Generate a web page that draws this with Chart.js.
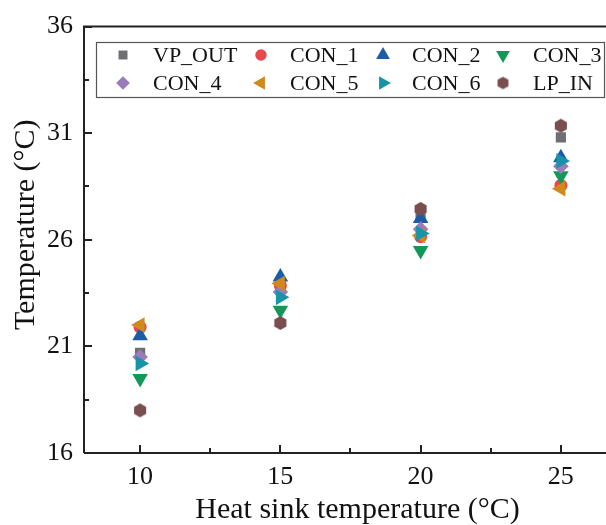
<!DOCTYPE html>
<html>
<head>
<meta charset="utf-8">
<script src="https://cdn.jsdelivr.net/npm/chart.js@4/dist/chart.umd.min.js"></script>
<style>
body { margin: 0; background: #fff; }
#wrap { width: 606px; height: 525px; overflow: hidden; }
</style>
</head>
<body>
<div id="wrap"><canvas id="myChart" width="640" height="525"></canvas></div>
<script>
// data
var xValues = [10, 15, 20, 25];
var xTicks = [10, 15, 20, 25];
var yTicks = [16, 21, 26, 31, 36];
var seriesNames = ["VP_OUT", "CON_1", "CON_2", "CON_3", "CON_4", "CON_5", "CON_6", "LP_IN"];
var vpOut = [20.7, 23.8, 27.2, 30.8];
var con1 = [21.9, 23.85, 26.15, 28.55];
var con2 = [21.5, 24.25, 27.0, 29.85];
var con3 = [19.5, 22.7, 25.5, 29.0];
var con4 = [20.5, 23.55, 26.5, 29.45];
var con5 = [22.0, 23.95, 26.2, 28.4];
var con6 = [20.2, 23.3, 26.3, 29.7];
var lpIn = [18.0, 22.1, 27.45, 31.35];

var allValues = [vpOut, con1, con2, con3, con4, con5, con6, lpIn];
var colors = ["#6e6f73", "#e8474c", "#1b5ca8", "#12995a", "#9b7bb8", "#cf8a1d", "#1794a8", "#7a4e4e"];

// hexagon marker
function hexagon(color, rad) {
  var n = Math.ceil(rad * 2) + 2;
  var c = document.createElement("canvas");
  c.width = n; c.height = n;
  var g = c.getContext("2d");
  g.fillStyle = color;
  g.beginPath();
  for (var i = 0; i < 6; i++) {
    var a = Math.PI / 3 * i - Math.PI / 2;
    var px = n / 2 + rad * Math.cos(a), py = n / 2 + rad * Math.sin(a);
    if (i == 0) g.moveTo(px, py); else g.lineTo(px, py);
  }
  g.closePath();
  g.fill();
  return c;
}

var styles = [
  {s: "rect", rot: 0, r: 7.2},
  {s: "circle", rot: 0, r: 6.5},
  {s: "triangle", rot: 0, r: 9},
  {s: "triangle", rot: 180, r: 9},
  {s: "rectRot", rot: 0, r: 7.8},
  {s: "triangle", rot: -90, r: 9},
  {s: "triangle", rot: 90, r: 9},
  {s: hexagon(colors[7], 7), rot: 0, r: 7}
];
var legendHex = hexagon(colors[7], 6.3);

var datasets = seriesNames.map(function(name, i) {
  return {
    label: name,
    data: xValues.map(function(x, j) { return {x: x, y: allValues[i][j]}; }),
    backgroundColor: colors[i],
    borderColor: colors[i],
    borderWidth: 0,
    pointStyle: styles[i].s,
    rotation: styles[i].rot,
    pointRadius: styles[i].r,
    pointHoverRadius: styles[i].r,
    order: 7 - i
  };
});

var serif = "'Liberation Serif', 'Times New Roman', serif";
var axisColor = "#222";

// axes frame + inward ticks + y title
var framePlugin = {
  id: "frame",
  afterDraw: function(chart) {
    var ctx = chart.ctx, a = chart.chartArea;
    var xs = chart.scales.x, ys = chart.scales.y;
    ctx.save();
    ctx.strokeStyle = axisColor;
    ctx.lineWidth = 2;
    ctx.beginPath();
    ctx.moveTo(a.left, a.bottom); ctx.lineTo(a.left, a.top); ctx.lineTo(a.right, a.top);
    ctx.moveTo(a.left, a.bottom); ctx.lineTo(a.right, a.bottom);
    xTicks.forEach(function(v) {
      var p = Math.round(xs.getPixelForValue(v));
      ctx.moveTo(p, a.bottom); ctx.lineTo(p, a.bottom - 8);
    });
    for (var i = 0; i < xTicks.length; i++) {
      var m = Math.round(xs.getPixelForValue(xTicks[i] + 2.5));
      ctx.moveTo(m, a.bottom); ctx.lineTo(m, a.bottom - 5);
    }
    yTicks.forEach(function(v, i) {
      var p = Math.round(ys.getPixelForValue(v));
      ctx.moveTo(a.left, p); ctx.lineTo(a.left + 8, p);
      if (i < yTicks.length - 1) {
        var m = Math.round(ys.getPixelForValue(v + 2.5));
        ctx.moveTo(a.left, m); ctx.lineTo(a.left + 5, m);
      }
    });
    ctx.stroke();

    // y axis title
    ctx.translate(26, (a.top + a.bottom) / 2 - 15);
    ctx.rotate(-Math.PI / 2);
    ctx.font = "30px " + serif;
    ctx.fillStyle = "#111";
    ctx.textAlign = "center";
    ctx.textBaseline = "middle";
    ctx.fillText("Temperature (°C)", 0, 0);
    ctx.restore();
  }
};

// legend box inside the plot
var legendPlugin = {
  id: "boxLegend",
  afterDatasetsDraw: function(chart) {
    var ctx = chart.ctx;
    var box = {l: 96, t: 42, r: 604, b: 97};
    var markX = [123, 261, 383, 503];
    var textX = [153, 290, 412, 533];
    var rowY = [55, 83];
    ctx.save();
    ctx.fillStyle = "#fff";
    ctx.fillRect(box.l, box.t, box.r - box.l, box.b - box.t);
    ctx.strokeStyle = "#555";
    ctx.lineWidth = 1.2;
    ctx.strokeRect(box.l + 0.5, box.t + 0.5, box.r - box.l, box.b - box.t);
    ctx.font = "22px " + serif;
    ctx.textBaseline = "middle";
    ctx.textAlign = "left";
    seriesNames.forEach(function(name, i) {
      var col = i % 4, row = Math.floor(i / 4);
      var st = styles[i];
      ctx.fillStyle = colors[i];
      ctx.strokeStyle = colors[i];
      Chart.helpers.drawPoint(ctx, {
        pointStyle: i == 7 ? legendHex : st.s, rotation: st.rot, radius: st.r * 0.88, borderWidth: 0
      }, markX[col], rowY[row]);
      ctx.fillStyle = "#111";
      ctx.fillText(name, textX[col], rowY[row] + 1);
    });
    ctx.restore();
  }
};

new Chart("myChart", {
  type: "scatter",
  data: { datasets: datasets },
  options: {
    responsive: false,
    animation: false,
    layout: { padding: { top: 24, right: 2, left: 0, bottom: 0 } },
    plugins: {
      legend: { display: false },
      tooltip: { enabled: false }
    },
    scales: {
      x: {
        type: "linear",
        min: 8,
        max: 27.5,
        grid: { display: false, drawTicks: false },
        border: { display: false },
        afterBuildTicks: function(s) { s.ticks = xTicks.map(function(v) { return {value: v}; }); },
        afterFit: function(s) { s.height = 72; },
        ticks: { color: "#111", font: { family: serif, size: 26 }, padding: 9 },
        title: {
          display: true,
          text: "Heat sink temperature (°C)",
          color: "#111",
          font: { family: serif, size: 30, lineHeight: 1 },
          padding: 0
        }
      },
      y: {
        min: 16,
        max: 36,
        grid: { display: false, drawTicks: false },
        border: { display: false },
        afterBuildTicks: function(s) { s.ticks = yTicks.map(function(v) { return {value: v}; }); },
        afterFit: function(s) { s.width = 84; },
        ticks: { color: "#111", font: { family: serif, size: 26 }, padding: 11 }
      }
    }
  },
  plugins: [framePlugin, legendPlugin]
});
</script>
</body>
</html>
